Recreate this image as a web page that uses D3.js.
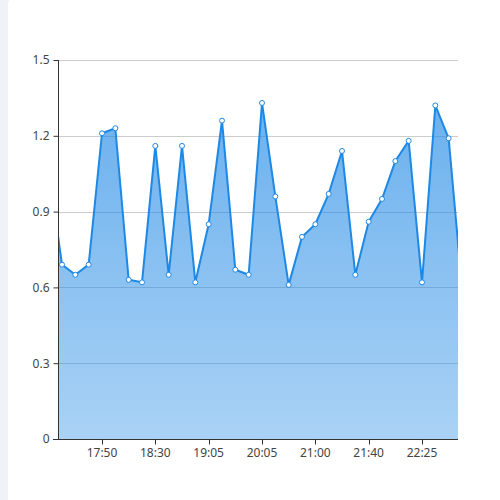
<!DOCTYPE html>
<html><head><meta charset="utf-8">
<script src="https://cdn.jsdelivr.net/npm/d3@7/dist/d3.min.js"></script>
<style>body{margin:0;background:#f1f2f8;}svg{display:block;}</style>
</head><body>
<svg id="c" width="500" height="500"></svg>
<script>
const times = ["17:30","17:35","17:40","17:45","17:50","18:00","18:10","18:20","18:30","18:40","18:50","18:55","19:05","19:20","19:35","19:50","20:05","20:20","20:30","20:45","21:00","21:10","21:20","21:30","21:40","21:50","22:00","22:15","22:25","22:35","22:45","22:55"];
const values = [1.07,0.69,0.65,0.69,1.21,1.23,0.63,0.62,1.16,0.65,1.16,0.62,0.85,1.26,0.67,0.65,1.33,0.96,0.61,0.80,0.85,0.97,1.14,0.65,0.86,0.95,1.10,1.18,0.62,1.32,1.19,0.60];
const yTicks = [0,0.3,0.6,0.9,1.2,1.5];
const xTickLabels = ["17:50","18:30","19:05","20:05","21:00","21:40","22:25"];
const viewStart = 0.7, viewEnd = 30.7;

const svg = d3.select("#c");
svg.append("rect").attr("x",8).attr("y",-1).attr("width",500).attr("height",510).attr("rx",5).attr("fill","#fff");

const L=58,R=458,T=60,B=439;
const x = d3.scaleLinear().domain([viewStart,viewEnd]).range([L,R]);
const y = d3.scaleLinear().domain([0,1.5]).range([B,T]);
const data = values.map((v,i)=>({i,v,t:times[i]}));

const defs = svg.append("defs");
defs.append("clipPath").attr("id","clip").append("rect").attr("x",L).attr("y",0).attr("width",R-L).attr("height",B+1);
const g = defs.append("linearGradient").attr("id","grad").attr("x1",0).attr("y1",0).attr("x2",0).attr("y2",1);
g.append("stop").attr("offset","0%").attr("stop-color","#1e88e5").attr("stop-opacity",0.66);
g.append("stop").attr("offset","100%").attr("stop-color","#1e88e5").attr("stop-opacity",0.38);

// grid
svg.append("g").selectAll("line").data(yTicks.filter(d=>d>0)).join("line")
  .attr("x1",L).attr("x2",R).attr("y1",d=>Math.round(y(d))+0.5).attr("y2",d=>Math.round(y(d))+0.5)
  .attr("stroke","#cccccc").attr("stroke-width",1);

const plot = svg.append("g").attr("clip-path","url(#clip)");
plot.append("path").datum(data)
  .attr("d",d3.area().x(d=>x(d.i)).y0(y(0)).y1(d=>y(d.v)))
  .attr("fill","url(#grad)");
plot.append("path").datum(data)
  .attr("d",d3.line().x(d=>x(d.i)).y(d=>y(d.v)))
  .attr("fill","none").attr("stroke","#1e88e5").attr("stroke-width",2).attr("stroke-linejoin","round");
plot.append("g").selectAll("circle").data(data.filter(d=>d.i>=viewStart&&d.i<=viewEnd)).join("circle")
  .attr("cx",d=>x(d.i)).attr("cy",d=>y(d.v)).attr("r",2.5)
  .attr("fill","#fff").attr("stroke","#1e88e5").attr("stroke-width",1);

// y axis
const yAxis = d3.axisLeft(y).tickValues(yTicks).tickSize(5).tickPadding(4)
  .tickFormat(d=>d===0?"0":d3.format(".1f")(d));
const ya = svg.append("g").attr("transform",`translate(${L+0.5},0)`).call(yAxis);
ya.select(".domain").attr("stroke","#333").attr("d",`M0,${T}V${B}`);
ya.selectAll(".tick line").attr("stroke","#333");
ya.selectAll("text").attr("fill","#444").style("font-family","'Noto Sans','DejaVu Sans',sans-serif").style("font-size","12px");

// x axis
const xa = svg.append("g").attr("transform",`translate(0,${B+0.5})`);
xa.append("line").attr("x1",L-5).attr("x2",R).attr("stroke","#333");
const shown = data.filter(d=>xTickLabels.includes(d.t));
xa.selectAll("line.t").data(shown).join("line").attr("class","t")
  .attr("x1",d=>Math.round(x(d.i))+0.5).attr("x2",d=>Math.round(x(d.i))+0.5).attr("y1",0).attr("y2",5).attr("stroke","#333");
xa.selectAll("text").data(shown).join("text")
  .attr("x",d=>x(d.i)).attr("y",17).attr("text-anchor","middle")
  .attr("fill","#444").style("font-family","'Noto Sans','DejaVu Sans',sans-serif").style("font-size","12px")
  .text(d=>d.t);
</script>
</body></html>
